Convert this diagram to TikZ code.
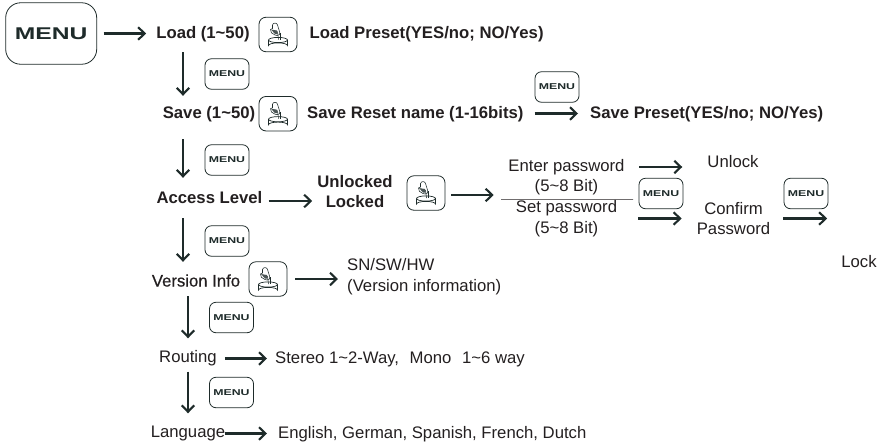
\documentclass[tikz,border=0pt]{standalone}
\usepackage{fontspec}
\usepackage{graphicx}
\setmainfont{Liberation Sans}
\newfontfamily\mediumfont[FakeBold=0.5]{Liberation Sans}
\usetikzlibrary{arrows.meta}
\definecolor{ink}{HTML}{231F20}
\definecolor{arrowink}{HTML}{1E2B2A}
\newcommand{\menutext}[1]{\scalebox{1.45}[1]{\fontsize{#1}{#1}\selectfont\bfseries MENU}}
\tikzset{
  txt/.style={inner sep=0pt,text=ink,font=\fontsize{16.7}{20.5}\selectfont,align=center,text height=12.5pt,text depth=2.5pt},
  mtxt/.style={inner sep=0pt,text=ink,font=\fontsize{16.7}{20.5}\selectfont,align=center},
  btxt/.style={txt,font=\fontsize{16.7}{20.5}\selectfont\bfseries},
  mbtxt/.style={mtxt,font=\fontsize{16.7}{20}\selectfont\bfseries},
  medtxt/.style={txt,font=\fontsize{16.7}{20.5}\selectfont\mediumfont},
  bigmenu/.style={draw=arrowink,line width=0.8pt,rounded corners=15pt,minimum width=91pt,minimum height=61.5pt,inner sep=0pt,text=arrowink},
  smallmenu/.style={draw=arrowink,line width=0.8pt,rounded corners=6.5pt,minimum width=44pt,minimum height=30.5pt,inner sep=0pt,text=arrowink},
  iconbox/.style={draw=arrowink,line width=0.8pt,rounded corners=7pt,minimum width=38pt,minimum height=34.5pt,inner sep=0pt},
  arr/.style={draw=arrowink,line width=2.1pt,-{Straight Barb[length=6.5pt,width=12.5pt,line width=2.1pt]}},
  rulenode/.style={draw=ink,line width=0.6pt,minimum width=132pt,minimum height=0pt,inner sep=0pt},
  pics/presshand/.style={code={
    \draw[arrowink,line width=0.7pt]
      (-9.5,5.5) arc[start angle=180,end angle=360,x radius=9.5,y radius=2.6]
      arc[start angle=0,end angle=180,x radius=9.5,y radius=2.6];
    \draw[arrowink,line width=0.7pt]
      (-9.5,5.5) -- (-9.5,11) arc[start angle=180,end angle=360,x radius=9.5,y radius=2.6] -- (9.5,5.5);
    \draw[arrowink,line width=0.55pt,fill=white]
      (-5.5,-6) -- (-5.5,-9.5) .. controls (-5,-12) and (-1,-12) .. (-0.5,-9.5)
      -- (1.5,-3) .. controls (2.5,0) and (1,1) .. (-1,1)
      -- (-3,0.5) .. controls (-6,0) and (-8,-3) .. (-7.5,-5) -- cycle;
    \fill[arrowink!80] (-7,-5) -- (-1,-4) -- (-0.5,-0.5) -- (-3,-0.5) -- cycle;
    \draw[arrowink,line width=0.55pt] (-0.5,-3) -- (0.5,5);
    \draw[arrowink,line width=0.55pt] (1.8,-2) -- (1.8,5);
  }}
}
\begin{document}
\begin{tikzpicture}[x=1pt,y=-1pt]
\useasboundingbox (0,0) rectangle (883,445);
\coordinate (spineA) at (183,0);
\coordinate (spineB) at (188,0);

\node[bigmenu] (menu) at (51.2,33.5) {\menutext{17}};
\node[btxt] (load) at (203,33.5) {Load (1\textasciitilde 50)};
\node[iconbox] (h1) at (278,34.5) {};
\pic at (h1) {presshand};
\node[btxt,anchor=west] (loadp) at (309.5,33.5) {Load Preset(YES/no; NO/Yes)};
\node[smallmenu] (m1) at (227,74) {\menutext{8.5}};

\node[btxt] (save) at (209,113.5) {Save (1\textasciitilde 50)};
\node[iconbox] (h2) at (278,113.7) {};
\pic at (h2) {presshand};
\node[btxt,anchor=west] (saver) at (307,113.5) {Save Reset name (1-16bits)};
\node[smallmenu] (m2) at (557,87) {\menutext{8.5}};
\node[btxt,anchor=west] (savep) at (590,113.5) {Save Preset(YES/no; NO/Yes)};
\node[smallmenu] (m3) at (227,160) {\menutext{8.5}};

\node[btxt] (access) at (209.5,198.5) {Access Level};
\node[mbtxt] (lock1) at (355,192) {Unlocked\\Locked};
\node[iconbox] (h3) at (426,193) {};
\pic at (h3) {presshand};
\node[mtxt] (enter) at (566.5,177) {Enter password\\(5\textasciitilde 8 Bit)};
\node[rulenode] (rule) at (567,199) {};
\node[mtxt] (setpw) at (566.5,218.5) {Set password\\(5\textasciitilde 8 Bit)};
\node[txt] (unlock) at (733,162.5) {Unlock};
\node[smallmenu] (m4) at (661,193.5) {\menutext{8.5}};
\node[mtxt] (confirm) at (733.5,218.5) {Confirm\\Password};
\node[smallmenu] (m5) at (806,193.5) {\menutext{8.5}};
\node[txt] (lock) at (859,262.5) {Lock};
\node[smallmenu] (m6) at (227,241) {\menutext{8.5}};

\node[medtxt] (version) at (196,281.5) {Version Info};
\node[iconbox] (h4) at (268,279) {};
\pic at (h4) {presshand};
\node[mtxt,anchor=west,align=left] (sn) at (347,276.5) {SN/SW/HW\\(Version information)};
\node[smallmenu] (m7) at (231.5,317.5) {\menutext{8.5}};

\node[txt] (routing) at (188,357) {Routing};
\node[txt,anchor=west] (stereo) at (275,358.5) {Stereo 1\textasciitilde 2-Way,\ \hspace{6pt}Mono\ \hspace{6pt}1\textasciitilde 6 way};
\node[smallmenu] (m8) at (231.5,392.5) {\menutext{8.5}};

\node[txt] (lang) at (188,432) {Language};
\node[txt,anchor=west] (english) at (278,433.5) {English, German, Spanish, French, Dutch};

% horizontal connectors
\draw[arr,shorten <=6.5pt,shorten >=10pt] (menu.east) -- (load.west);
\draw[arr,shorten <=11pt,shorten >=12pt] (saver.east) -- (savep.west);
\draw[arr,shorten <=6pt,shorten >=5pt] ([yshift=-2.5pt]access.east) -- ([yshift=-2.5pt]access.east -| lock1.west);
\draw[arr,shorten <=6pt,shorten >=7pt] ([yshift=-2pt]h3.east) -- ([yshift=-2pt]h3.east -| rule.west);
\draw[arr,shorten <=14.5pt,shorten >=25pt] ([yshift=10pt]enter.east) -- ([yshift=10pt]enter.east -| unlock.west);
\draw[arr,shorten <=21pt,shorten >=15pt] (setpw.east) -- (setpw.east -| confirm.west);
\draw[arr,shorten <=13pt,shorten >=14pt] (confirm.east) -- (confirm.east -| lock.west);
\draw[arr,shorten <=8pt,shorten >=9pt] (h4.east) -- (h4.east -| sn.west);
\draw[arr,shorten <=8pt,shorten >=8pt] (routing.east |- stereo.west) -- (stereo.west);
\draw[arr,shorten <=0pt,shorten >=11pt] (lang.east |- english.west) -- (english.west);

% vertical connectors
\draw[arr,shorten <=11pt,shorten >=10pt] (load.south -| spineA) -- (save.north -| spineA);
\draw[arr,shorten <=18pt,shorten >=13pt] (save.south -| spineA) -- (access.north -| spineA);
\draw[arr,shorten <=12pt,shorten >=12pt] (access.south -| spineA) -- (version.north -| spineA);
\draw[arr,shorten <=7pt,shorten >=11pt] (version.south -| spineB) -- (routing.north -| spineB);
\draw[arr,shorten <=7pt,shorten >=11pt] (routing.south -| spineB) -- (lang.north -| spineB);
\end{tikzpicture}
\end{document}
